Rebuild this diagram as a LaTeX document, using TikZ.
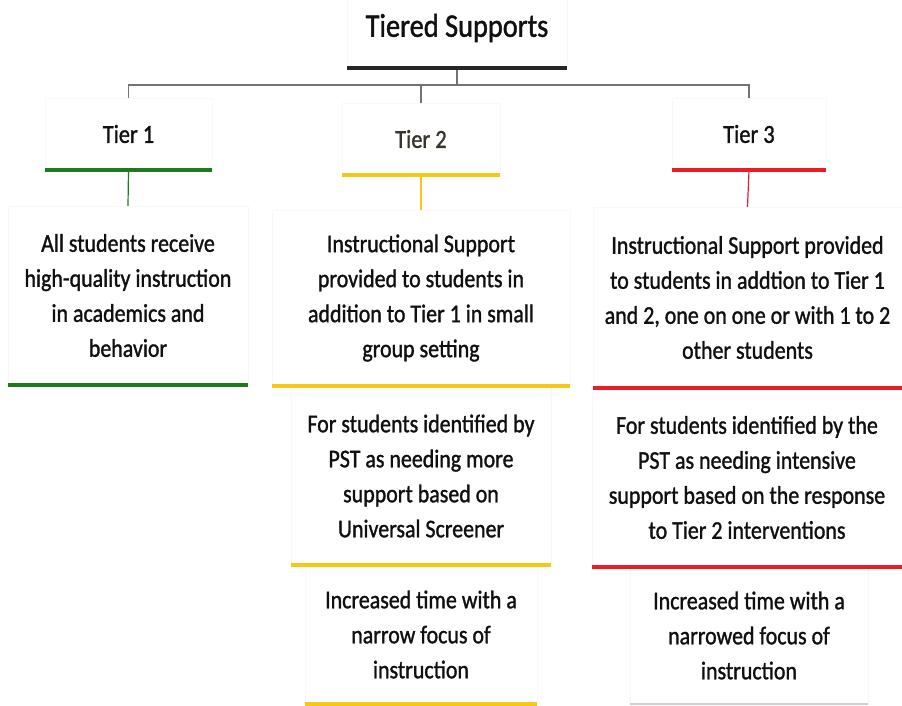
\documentclass[tikz,border=0pt]{standalone}
\usepackage{fontspec}
\setmainfont[FakeStretch=0.86,FakeBold=1.2]{Carlito}
\definecolor{tgreen}{HTML}{1E7A1E}
\definecolor{tyellow}{HTML}{F5C816}
\definecolor{tred}{HTML}{EC1C24}
\definecolor{faint}{HTML}{F8F8F8}
\definecolor{ink}{HTML}{101010}
\begin{document}
\begin{tikzpicture}[x=1pt,y=-1pt,
  box/.style={draw=faint,line width=0.4pt,inner sep=0pt,align=center,text=ink,
    font=\fontsize{25.5}{35}\selectfont},
  tierbox/.style={box,font=\fontsize{26}{30}\selectfont},
  conn/.style={draw=black!55,line width=1.1pt},
  gline/.style={draw=tgreen,line width=4pt},
  yline/.style={draw=tyellow,line width=4pt},
  rline/.style={draw=tred,line width=4pt},
  gconn/.style={draw=tgreen,line width=1.2pt},
  yconn/.style={draw=tyellow,line width=1.2pt},
  rconn/.style={draw=tred,line width=1.2pt}]
\useasboundingbox (0,0) rectangle (902,706);
\fill[white] (0,0) rectangle (902,706);

% title
\node[box,minimum width=220pt,minimum height=80pt,font=\fontsize{33}{34}\selectfont] (title) at (457,28) {Tiered Supports};
\coordinate (hub) at (457,85);

% tier labels
\node[tierbox,minimum width=167pt,minimum height=72pt] (t1) at (128.5,134) {Tier 1};
\node[tierbox,minimum width=158pt,minimum height=72pt,text=black!80!olive] (t2) at (421,139) {Tier 2};
\node[tierbox,minimum width=154pt,minimum height=72pt] (t3) at (749,134) {Tier 3};

% first row
\node[box,minimum width=240pt,minimum height=179pt] (b1) at (128,295.5)
  {All students receive\\high-quality instruction\\in academics and\\behavior};
\node[box,minimum width=298pt,minimum height=176pt] (b2) at (421,298)
  {Instructional Support\\provided to students in\\addition to Tier 1 in small\\group setting};
\node[box,minimum width=309pt,minimum height=181pt] (b3) at (747.5,297.5)
  {Instructional Support provided\\to students in addtion to Tier 1\\and 2, one on one or with 1 to 2\\other students};

% second row
\node[box,minimum width=260pt,minimum height=178pt] (b2b) at (421,476)
  {For students identified by\\PST as needing more\\support based on\\Universal Screener};
\node[box,minimum width=310pt,minimum height=179pt] (b3b) at (747,477.5)
  {For students identified by the\\PST as needing intensive\\support based on the response\\to Tier 2 interventions};

% third row
\node[box,minimum width=232pt,minimum height=139pt] (b2c) at (421,634.5)
  {Increased time with a\\narrow focus of\\instruction};
\node[box,minimum width=238pt,minimum height=137pt] (b3c) at (749,635.5)
  {Increased time with a\\narrowed focus of\\instruction};

% connectors
\draw[conn] (title.south) -- (hub);
\draw[conn] (t1.north) |- (hub) -| (t3.north);
\draw[conn] (t2.north) |- (hub);
\draw[gconn] (t1.south) -- (b1.north);
\draw[yconn] (t2.south) -- (b2.north);
\draw[rconn] (t3.south) -- (b3.north);

% coloured rules
\draw[line width=3.5pt,draw=black!85] (title.south west) -- (title.south east);
\draw[gline] (t1.south west) -- (t1.south east);
\draw[yline] (t2.south west) -- (t2.south east);
\draw[rline] (t3.south west) -- (t3.south east);
\draw[gline] (b1.south west) -- (b1.south east);
\draw[yline] (b2.south west) -- (b2.south east);
\draw[rline] (b3.south west) -- (b3.south east);
\draw[yline] (b2b.south west) -- (b2b.south east);
\draw[rline] (b3b.south west) -- (b3b.south east);
\draw[yline] (b2c.south west) -- (b2c.south east);
\draw[draw=tred!25!black!20,line width=2pt] (b3c.south west) -- (b3c.south east);
\end{tikzpicture}
\end{document}
